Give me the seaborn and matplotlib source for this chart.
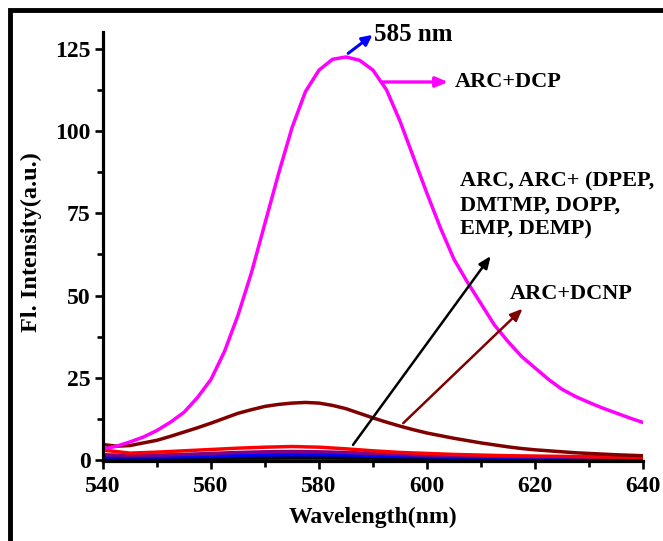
import numpy as np
import pandas as pd
import seaborn as sns
import matplotlib
matplotlib.use("Agg")
import matplotlib.pyplot as plt
from matplotlib.patches import Rectangle
from matplotlib.ticker import MultipleLocator

# ---- data ----
# fine grid for the two strong emission curves
wavelength_fine = [540, 542.5, 545, 547.5, 550, 552.5, 555, 557.5, 560, 562.5,
                   565, 567.5, 570, 572.5, 575, 577.5, 580, 582.5, 585, 587.5,
                   590, 592.5, 595, 597.5, 600, 602.5, 605, 607.5, 610, 612.5,
                   615, 617.5, 620, 622.5, 625, 627.5, 630, 632.5, 635, 637.5, 640]

arc_dcp = [3.3, 4.2, 5.5, 7.0, 9.0, 11.5, 14.5, 19.0, 24.5, 33.0,
           44.0, 57.0, 72.0, 87.0, 101.0, 112.0, 118.5, 121.8, 122.5, 121.5,
           118.5, 112.5, 103.0, 92.0, 81.0, 70.5, 61.0, 54.0, 47.5, 41.0,
           36.0, 31.5, 28.0, 24.5, 21.5, 19.3, 17.5, 15.8, 14.3, 12.8, 11.4]
arc_dcnp = [4.7, 4.2, 4.4, 5.2, 6.0, 7.2, 8.5, 9.8, 11.2, 12.7,
            14.2, 15.3, 16.3, 16.9, 17.3, 17.5, 17.3, 16.6, 15.6, 14.2,
            12.8, 11.5, 10.3, 9.2, 8.2, 7.4, 6.6, 5.9, 5.2, 4.6,
            4.0, 3.5, 3.1, 2.8, 2.5, 2.2, 2.0, 1.8, 1.6, 1.45, 1.3]

# coarse grid for the weak curves
wavelength = [540, 545, 550, 555, 560, 565, 570, 575, 580, 585, 590,
              595, 600, 605, 610, 615, 620, 625, 630, 635, 640]
arc_red = [3.0, 2.1, 2.4, 2.8, 3.2, 3.6, 3.9, 4.1, 3.9, 3.4, 2.8,
           2.3, 2.0, 1.7, 1.5, 1.3, 1.2, 1.1, 1.0, 0.9, 0.8]
arc_purple = [1.6, 1.4, 1.5, 1.7, 2.0, 2.3, 2.5, 2.6, 2.5, 2.3, 2.0,
              1.7, 1.5, 1.3, 1.2, 1.1, 1.0, 1.0, 0.9, 0.9, 0.9]
arc_blue = [1.0, 1.0, 1.0, 1.1, 1.3, 1.5, 1.6, 1.7, 1.7, 1.6, 1.4,
            1.2, 1.1, 1.0, 1.0, 0.9, 0.9, 0.9, 0.8, 0.8, 0.8]
arc_navy = [0.8, 0.8, 0.8, 0.9, 1.0, 1.1, 1.2, 1.3, 1.3, 1.2, 1.1,
            1.0, 0.9, 0.8, 0.8, 0.7, 0.7, 0.7, 0.7, 0.7, 0.7]
arc_black = [0.4, 0.4, 0.4, 0.5, 0.5, 0.6, 0.6, 0.7, 0.7, 0.6, 0.6,
             0.5, 0.5, 0.5, 0.4, 0.4, 0.4, 0.4, 0.4, 0.4, 0.4]
arc_red_low = [0.3, 0.3, 0.3, 0.3, 0.3, 0.3, 0.3, 0.3, 0.3, 0.3, 0.3,
               0.3, 0.3, 0.3, 0.2, 0.2, 0.2, 0.2, 0.2, 0.2, 0.2]

series = [
    ("ARC+DEMP", wavelength, arc_red_low, "#ff0000"),
    ("ARC", wavelength, arc_black, "#000000"),
    ("ARC+EMP", wavelength, arc_navy, "#000080"),
    ("ARC+DOPP", wavelength, arc_blue, "#0000ff"),
    ("ARC+DMTMP", wavelength, arc_purple, "#800080"),
    ("ARC+DPEP", wavelength, arc_red, "#ff0000"),
    ("ARC+DCNP", wavelength_fine, arc_dcnp, "#800000"),
    ("ARC+DCP", wavelength_fine, arc_dcp, "#ff00ff"),
]

df = pd.concat(
    [pd.DataFrame({"Wavelength": x, "Intensity": y, "Sample": name})
     for name, x, y, _ in series],
    ignore_index=True,
)
palette = {name: c for name, _, _, c in series}
order = [name for name, _, _, _ in series]

sns.set_theme(style="ticks")
plt.rcParams["font.family"] = ["Liberation Serif", "DejaVu Serif"]
plt.rcParams["font.weight"] = "bold"
for k in ["text.color", "axes.labelcolor", "xtick.color", "ytick.color",
          "axes.edgecolor"]:
    plt.rcParams[k] = "black"

fig = plt.figure(figsize=(6.63, 5.41), dpi=100)
ax = fig.add_axes([103 / 663, 1 - 461 / 541, 540 / 663, (461 - 32.3) / 541])

sns.lineplot(data=df, x="Wavelength", y="Intensity", hue="Sample",
             hue_order=order, palette=palette,
             linewidth=2.5, legend=False, ax=ax, sort=False)

ax.set_xlim(540, 640)
ax.set_ylim(-0.3, 130)
ax.xaxis.set_major_locator(MultipleLocator(20))
ax.xaxis.set_minor_locator(MultipleLocator(10))
ax.set_yticks([0, 25, 50, 75, 100, 125])
ax.yaxis.set_minor_locator(MultipleLocator(12.5))

for s in ["top", "right"]:
    ax.spines[s].set_visible(False)
for s in ["left", "bottom"]:
    ax.spines[s].set_linewidth(2.3)

ax.tick_params(which="major", direction="out", length=6, width=1.9,
               labelsize=17, pad=3)
ax.tick_params(axis="x", which="major", pad=5)
ax.tick_params(which="minor", direction="out", length=4, width=1.9)
for lab in ax.get_xticklabels() + ax.get_yticklabels():
    lab.set_fontweight("bold")

ax.set_xlabel("Wavelength(nm)", fontsize=17, fontweight="bold")
ax.set_ylabel("Fl. Intensity(a.u.)", fontsize=17.5, fontweight="bold")
ax.xaxis.set_label_coords(0.5, -0.108)
ax.yaxis.set_label_coords(-0.113, 0.51)
ax.grid(False)

fs = 16
# 585 nm
ax.annotate("", xy=(589.9, 129.2), xytext=(585.4, 123.6),
            arrowprops=dict(arrowstyle="-|>,head_length=0.5,head_width=0.25",
                            color="#0000ff", lw=2.2, shrinkA=0, shrinkB=0),
            annotation_clip=False)
ax.text(590.2, 129.3, "585 nm", fontsize=18, fontweight="bold",
        va="center", ha="left", clip_on=False)

# ARC+DCP
ax.annotate("", xy=(603.9, 114.9), xytext=(591.7, 114.9),
            arrowprops=dict(arrowstyle="-|>,head_length=0.6,head_width=0.25",
                            color="#ff00ff", lw=2.4, shrinkA=0, shrinkB=0))
ax.text(605.2, 114.9, "ARC+DCP", fontsize=fs, fontweight="bold",
        va="center", ha="left")

# ARC, ARC+ (...)
ax.annotate("", xy=(611.8, 62.0), xytext=(586.3, 4.6),
            arrowprops=dict(arrowstyle="-|>,head_length=0.6,head_width=0.25",
                            color="black", lw=1.8, shrinkA=0, shrinkB=0))
ax.text(606.1, 87.8, "ARC, ARC+ (DPEP,\nDMTMP, DOPP,\nEMP, DEMP)",
        fontsize=fs, fontweight="bold", va="top", ha="left",
        linespacing=1.28, clip_on=False)

# ARC+DCNP
ax.annotate("", xy=(617.7, 46.0), xytext=(595.6, 11.2),
            arrowprops=dict(arrowstyle="-|>,head_length=0.6,head_width=0.25",
                            color="#800000", lw=1.8, shrinkA=0, shrinkB=0))
ax.text(615.4, 50.5, "ARC+DCNP", fontsize=fs, fontweight="bold",
        va="center", ha="left")

# outer frame (cropped on right and bottom)
fig.patches.append(Rectangle((10.3 / 663, -0.1), 1.2, 1.1 - 10.5 / 541,
                             transform=fig.transFigure, fill=False,
                             edgecolor="black", linewidth=3.5, zorder=10))

fig.savefig("out.png", dpi=100)
